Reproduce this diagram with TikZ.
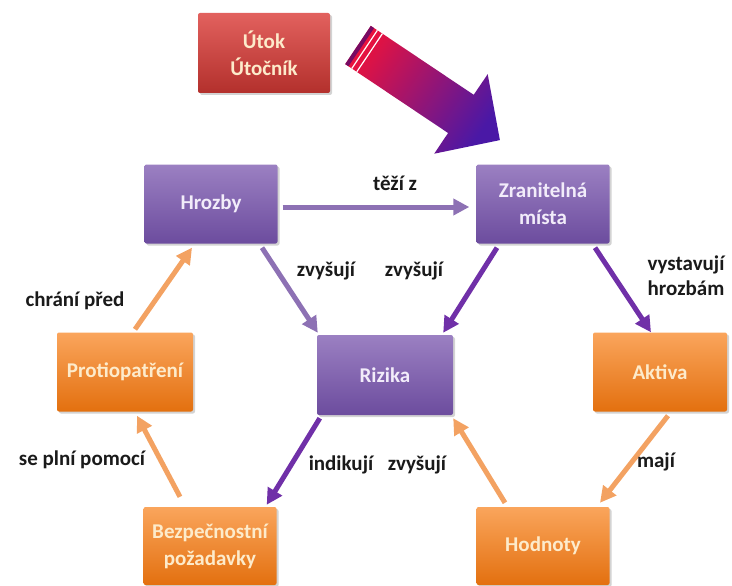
\documentclass[tikz,border=0pt]{standalone}
\usepackage{fontspec}
\setmainfont{Carlito}
\usetikzlibrary{arrows.meta,shadows}
\definecolor{orgtop}{HTML}{FAA55C}
\definecolor{orgbot}{HTML}{E3700F}
\definecolor{purtop}{HTML}{9B80C2}
\definecolor{purbot}{HTML}{6C4C9E}
\definecolor{redtop}{HTML}{E2615E}
\definecolor{redbot}{HTML}{B3302C}
\definecolor{cream}{HTML}{FDEBCB}
\definecolor{lilac}{HTML}{F2ECFA}
\definecolor{lightpur}{HTML}{8D71B4}
\definecolor{darkpur}{HTML}{7030A8}
\definecolor{orgline}{HTML}{F3A262}
\definecolor{labeltext}{HTML}{1A1A1A}
\definecolor{arrred}{HTML}{E8123E}
\definecolor{arrmid}{HTML}{A8108E}
\definecolor{arrblue}{HTML}{4A18A6}
\tikzset{
  boxbase/.style={rectangle, rounded corners=2pt, minimum width=133pt, minimum height=79pt,
    inner sep=2pt, align=center, font=\bfseries\fontsize{21}{27}\selectfont,
    drop shadow={shadow xshift=2pt, shadow yshift=-2pt, opacity=0.35}},
  orangebox/.style={boxbase, top color=orgtop, bottom color=orgbot, text=cream},
  purplebox/.style={boxbase, top color=purtop, bottom color=purbot, text=lilac},
  redbox/.style={boxbase, top color=redtop, bottom color=redbot, text=cream},
  conn/.style={line width=5pt, -{Triangle[width=16pt,length=16pt]}},
  lpur/.style={conn, draw=lightpur},
  dpur/.style={conn, draw=darkpur},
  oline/.style={conn, draw=orgline},
  lbl/.style={font=\bfseries\fontsize{21}{25}\selectfont, text=labeltext, align=center}
}
\begin{document}
\begin{tikzpicture}[x=1pt,y=-1pt]
\useasboundingbox (0,0) rectangle (732,586);
% nodes
\node[redbox, minimum width=132pt, minimum height=80pt] (utok) at (264,53) {Útok\\Útočník};
\node[purplebox] (hrozby) at (211,204) {Hrozby};
\node[purplebox] (zran) at (543,204) {Zranitelná\\místa};
\node[orangebox, minimum width=136pt] (proti) at (125,372) {Protiopatření};
\node[purplebox, minimum width=136pt, minimum height=80pt] (rizika) at (385,375) {Rizika};
\node[orangebox, minimum width=134pt] (aktiva) at (660,372) {Aktiva};
\node[orangebox, minimum height=78pt] (bezp) at (210,546) {Bezpečnostní\\požadavky};
\node[orangebox, minimum height=78pt] (hodn) at (543,546) {Hodnoty};
% big arrow
\path[top color=arrred, middle color=arrmid, bottom color=arrblue, shading angle=56]
  (370.8,25.9) -- (473.7,94.8) -- (487.7,74.2) -- (499.9,140.1) -- (434.2,153.7)
  -- (448.1,133.0) -- (345.2,64.1) -- cycle;
\fill[arrmid!70!black] (370.8,25.9) -- (374.1,28.1) -- (348.5,66.3) -- (345.2,64.1) -- cycle;
\draw[white, line width=1.2pt] (377.4,30.3) -- (351.8,68.5);
\draw[white, line width=1.2pt] (382.4,33.6) -- (356.8,71.8);
% connectors
\draw[lpur] ([xshift=5pt,yshift=-3pt]hrozby.east) -- ([xshift=-7pt,yshift=-3pt]zran.west);
\draw[lpur] ([xshift=51pt,yshift=-4pt]hrozby.south) -- ([xshift=1pt,yshift=2pt]rizika.north west);
\draw[dpur] ([xshift=-46pt,yshift=-4pt]zran.south) -- ([xshift=-10pt,yshift=2pt]rizika.north east);
\draw[dpur] ([xshift=52pt,yshift=-4pt]zran.south) -- ([xshift=-9pt]aktiva.north);
\draw[oline] ([xshift=8pt,yshift=-4pt]aktiva.south) -- ([xshift=57pt,yshift=4pt]hodn.north);
\draw[oline] ([xshift=-38pt,yshift=4pt]hodn.north) -- ([yshift=-3pt]rizika.south east);
\draw[dpur] ([xshift=3pt,yshift=-3pt]rizika.south west) -- ([xshift=-10pt,yshift=2pt]bezp.north east);
\draw[oline] ([xshift=-30pt,yshift=10pt]bezp.north) -- ([xshift=12pt,yshift=-4pt]proti.south);
\draw[oline] ([xshift=10pt,yshift=3pt]proti.north) -- ([xshift=-19pt,yshift=-4pt]hrozby.south);
% labels
\node[lbl] (l1) at (395,183) {těží z};
\node[lbl] (l2) at (326,271) {zvyšují};
\node[lbl] (l3) at (414,271) {zvyšují};
\node[lbl] (l4) at (686,276) {vystavují\\hrozbám};
\node[lbl] (l5) at (75,301) {chrání před};
\node[lbl] (l6) at (82,460) {se plní pomocí};
\node[lbl] (l7) at (341,465) {indikují};
\node[lbl] (l8) at (417,465) {zvyšují};
\node[lbl] (l9) at (656,462) {mají};
\end{tikzpicture}
\end{document}
